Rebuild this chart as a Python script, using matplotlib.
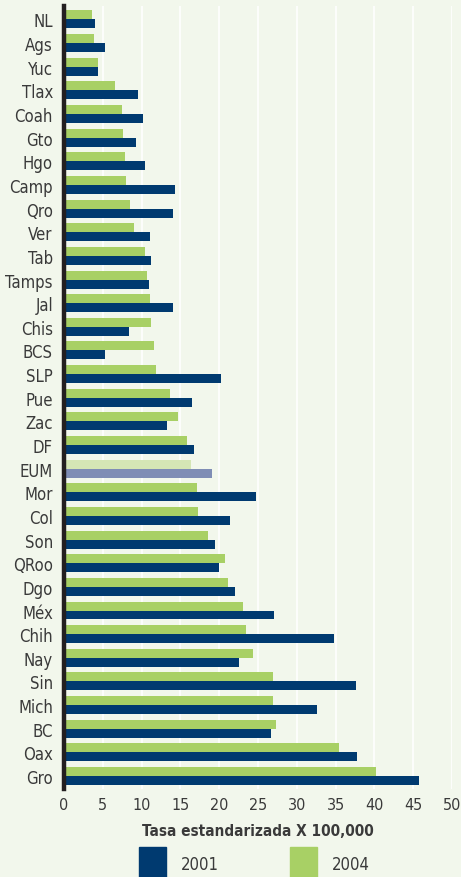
import numpy as np
import matplotlib.pyplot as plt
from matplotlib.patches import Patch

estados = ["NL", "Ags", "Yuc", "Tlax", "Coah", "Gto", "Hgo", "Camp", "Qro", "Ver",
           "Tab", "Tamps", "Jal", "Chis", "BCS", "SLP", "Pue", "Zac", "DF", "EUM",
           "Mor", "Col", "Son", "QRoo", "Dgo", "Méx", "Chih", "Nay", "Sin", "Mich",
           "BC", "Oax", "Gro"]
tasa_2001 = [4.0, 5.3, 4.4, 9.6, 10.2, 9.3, 10.5, 14.3, 14.1, 11.1,
             11.2, 11.0, 14.0, 8.4, 5.3, 20.2, 16.5, 13.3, 16.7, 19.1,
             24.8, 21.4, 19.4, 20.0, 22.0, 27.1, 34.8, 22.5, 37.6, 32.6,
             26.7, 37.7, 45.7]
tasa_2004 = [3.6, 3.9, 4.4, 6.6, 7.5, 7.6, 7.9, 8.0, 8.5, 9.0,
             10.5, 10.7, 11.1, 11.2, 11.6, 11.9, 13.6, 14.7, 15.9, 16.4,
             17.1, 17.3, 18.6, 20.7, 21.1, 23.1, 23.4, 24.4, 26.9, 26.9,
             27.3, 35.5, 40.2]

azul = "#003a70"
verde = "#a8d065"
fondo = "#f2f7ec"
gris = "#3a3a3a"
fuente = dict(family="DejaVu Sans", stretch="condensed")

fig = plt.figure(figsize=(4.61, 8.78), dpi=100, facecolor=fondo)
ax = fig.add_axes([64 / 461, 88 / 878, 388 / 461, 783 / 878], facecolor=fondo)

y = np.arange(len(estados))
h = 0.38
c01 = [("#7f8db5" if e == "EUM" else azul) for e in estados]
c04 = [("#d5e6b5" if e == "EUM" else verde) for e in estados]
ax.barh(y + h / 2, tasa_2001, height=h, color=c01, zorder=3)
ax.barh(y - h / 2, tasa_2004, height=h, color=c04, zorder=3)

ax.set_ylim(len(estados) - 0.45, -0.57)
ax.set_xlim(0, 50)
ax.set_xticks(range(0, 51, 5))
ax.set_yticks(y)
ax.set_yticklabels(estados, fontsize=12, color=gris, **fuente)
for t in ax.get_xticklabels():
    t.set_family(fuente["family"])
    t.set_stretch(fuente["stretch"])
    t.set_fontsize(11.5)
    t.set_color(gris)
ax.tick_params(length=0)
ax.tick_params(axis="y", pad=8)
ax.tick_params(axis="x", pad=6)
ax.grid(axis="x", color="white", linewidth=1.2, zorder=0)
for s in ["top", "right", "bottom"]:
    ax.spines[s].set_visible(False)
ax.spines["left"].set_linewidth(3.2)
ax.spines["left"].set_color("#231f20")
ax.spines["left"].set_zorder(4)

ax.set_xlabel("Tasa estandarizada X 100,000", fontsize=11, fontweight="bold",
              color=gris, labelpad=8, **fuente)

handles = [Patch(color=azul, label="2001"), Patch(color=verde, label="2004")]
leg = fig.legend(handles=handles, ncol=2, frameon=False, loc="lower left",
                 bbox_to_anchor=(124 / 461, -0.022), handlelength=1.6, handleheight=2.8,
                 columnspacing=4.3, handletextpad=0.9,
                 prop={"family": "DejaVu Sans", "stretch": "condensed", "size": 12})
for t in leg.get_texts():
    t.set_color(gris)

fig.savefig("out.png", dpi=100, facecolor=fondo)
